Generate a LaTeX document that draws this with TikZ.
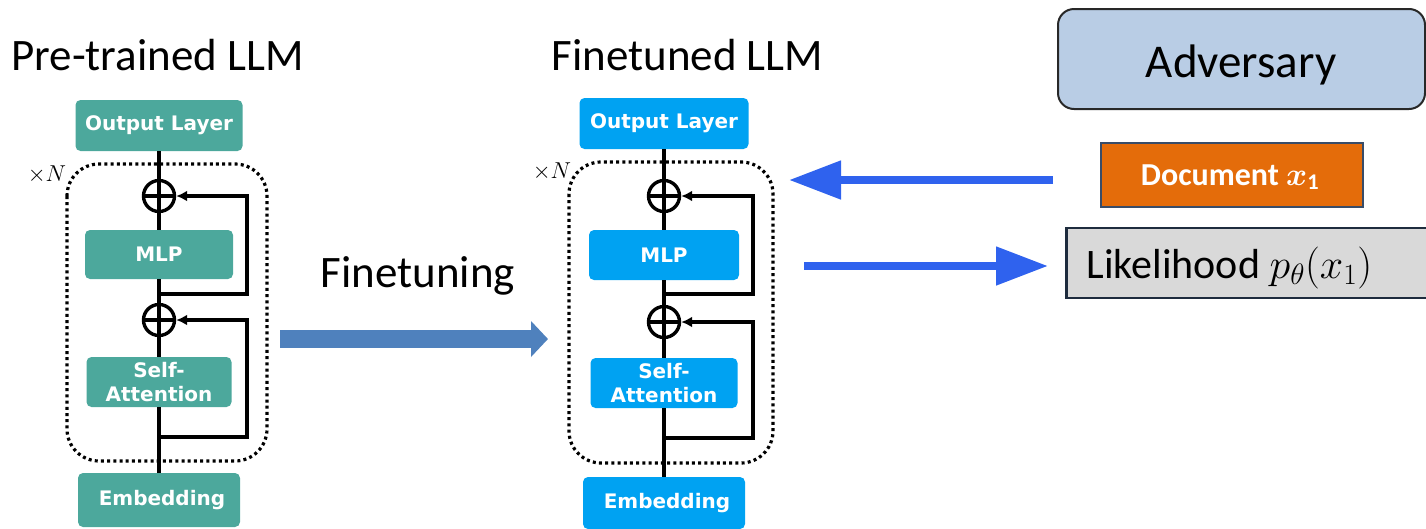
\RequirePackage{fix-cm}
\documentclass[tikz,border=0pt]{standalone}
\usepackage{fontspec}
\usepackage{amsmath,bm}
\setmainfont{Carlito}
\newfontfamily\boxfont{DejaVu Sans}[BoldFont={DejaVu Sans Bold}]
\usetikzlibrary{arrows.meta}

\definecolor{tealbox}{RGB}{76,168,156}
\definecolor{skybox}{RGB}{0,162,242}
\definecolor{advfill}{RGB}{185,205,229}
\definecolor{advline}{RGB}{40,40,40}
\definecolor{docfill}{RGB}{228,108,10}
\definecolor{docline}{RGB}{56,76,104}
\definecolor{likefill}{RGB}{217,217,217}
\definecolor{likeline}{RGB}{30,44,62}
\definecolor{ftarrow}{RGB}{79,129,189}
\definecolor{ioarrow}{RGB}{47,98,238}

\tikzset{
  layerbox/.style={rounded corners=5pt, text=white, inner sep=0pt,
    font=\boxfont\bfseries\fontsize{20}{24}\selectfont, align=center},
  tealblk/.style={layerbox, fill=tealbox},
  skyblk/.style={layerbox, fill=skybox},
  sumnode/.style={circle, draw, line width=3.4pt, minimum size=31pt, inner sep=0pt,
    path picture={\draw[line width=3.4pt]
      (path picture bounding box.north) -- (path picture bounding box.south)
      (path picture bounding box.west) -- (path picture bounding box.east);}},
  wire/.style={line width=3.2pt},
  skip/.style={wire, -{Latex[length=11pt,width=11pt]}},
  repeatbox/.style={draw, line width=3.2pt, dash pattern=on 3pt off 3.2pt, rounded corners=32pt},
  title/.style={anchor=base, font=\fontsize{45}{50}\selectfont},
  ioline/.style={color=ioarrow, line width=8pt, -{Triangle[length=52pt,width=37pt]}},
}

\begin{document}
\begin{tikzpicture}[x=1pt,y=-1pt]
\useasboundingbox (0,0) rectangle (1426,528);

% ---------- titles ----------
\node[title] (tPre) at (157.5,70) {Pre-trained LLM};
\node[title] (tFin) at (687.5,70) {Finetuned LLM};
\node[title] (tTune) at (418,287) {Finetuning};

% ---------- pre-trained transformer ----------
\draw[repeatbox] (67,164) rectangle (267,461);
\node (xnL) at (47,175) {\fontsize{23}{25}\selectfont$\times N$};
\node[tealblk, minimum width=167pt, minimum height=51pt] (outL) at (159,125.5) {Output Layer};
\node[sumnode] (sL1) at (159,196) {};
\node[tealblk, minimum width=148pt, minimum height=49pt] (mlpL) at (159,254.5) {MLP};
\node[sumnode] (sL2) at (159,320) {};
\node[tealblk, minimum width=145pt, minimum height=50pt] (saL) at (159,382) {Self-\\Attention};
\node[tealblk, minimum width=162pt, minimum height=54pt] (embL) at (159,500) {\hspace*{6pt}Embedding};
\draw[wire] (outL) -- (sL1);
\draw[wire] (sL1) -- (mlpL);
\draw[wire] (mlpL) -- (sL2);
\draw[wire] (sL2) -- (saL);
\draw[wire] (saL) -- (embL);
\coordinate (jL1) at (159,294);
\coordinate (jL2) at (159,437);
\draw[skip] (jL1) -- ++(88,0) |- (sL1.east);
\draw[skip] (jL2) -- ++(88,0) |- (sL2.east);

% ---------- finetuned transformer ----------
\draw[repeatbox] (569,162) rectangle (773,463);
\node (xnR) at (552,172) {\fontsize{23}{25}\selectfont$\times N$};
\node[skyblk, minimum width=169pt, minimum height=51pt] (outR) at (664,123.5) {Output Layer};
\node[sumnode] (sR1) at (664,196) {};
\node[skyblk, minimum width=150pt, minimum height=50pt] (mlpR) at (664,255) {MLP};
\node[sumnode] (sR2) at (664,322) {};
\node[skyblk, minimum width=147pt, minimum height=50pt] (saR) at (664,383) {Self-\\Attention};
\node[skyblk, minimum width=162pt, minimum height=52pt] (embR) at (664,503) {\hspace*{6pt}Embedding};
\draw[wire] (outR) -- (sR1);
\draw[wire] (sR1) -- (mlpR);
\draw[wire] (mlpR) -- (sR2);
\draw[wire] (sR2) -- (saR);
\draw[wire] (saR) -- (embR);
\coordinate (jR1) at (664,294);
\coordinate (jR2) at (664,438);
\draw[skip] (jR1) -- ++(89,0) |- (sR1.east);
\draw[skip] (jR2) -- ++(89,0) |- (sR2.east);

% ---------- finetuning arrow ----------
\coordinate (ftS) at (280,339);
\coordinate (ftE) at (548,339);
\draw[color=ftarrow, line width=18pt, -{Triangle[length=17pt,width=35pt]}] (ftS) -- (ftE);

% ---------- adversary side ----------
\node[draw=advline, fill=advfill, line width=2pt, rounded corners=16pt,
      minimum width=367pt, minimum height=100pt] (adv) at (1241.5,59) {};
\node[anchor=base, font=\fontsize{47}{52}\selectfont] (advT) at (1241,77) {Adversary};

\node[draw=docline, fill=docfill, line width=2.5pt,
      minimum width=262pt, minimum height=64pt] (doc) at (1232,175) {};
\node[anchor=base, text=white, font=\bfseries\fontsize{32}{36}\selectfont] (docT) at (1230,185)
  {Document $\bm{x}_{\mathbf{1}}$};

\node[draw=likeline, fill=likefill, line width=2.5pt, anchor=west,
      minimum width=380pt, minimum height=70pt] (lik) at (1065,263) {};
\node[anchor=base west, font=\fontsize{42}{48}\selectfont] (likT) at (1083,278)
  {Likelihood $p_\theta(x_1)$};

\coordinate (inS) at (1053,180);
\coordinate (inE) at (789,180);
\coordinate (outS) at (804,266);
\coordinate (outE) at (1048,266);
\draw[ioline] (inS) -- (inE);
\draw[ioline] (outS) -- (outE);
\end{tikzpicture}
\end{document}
